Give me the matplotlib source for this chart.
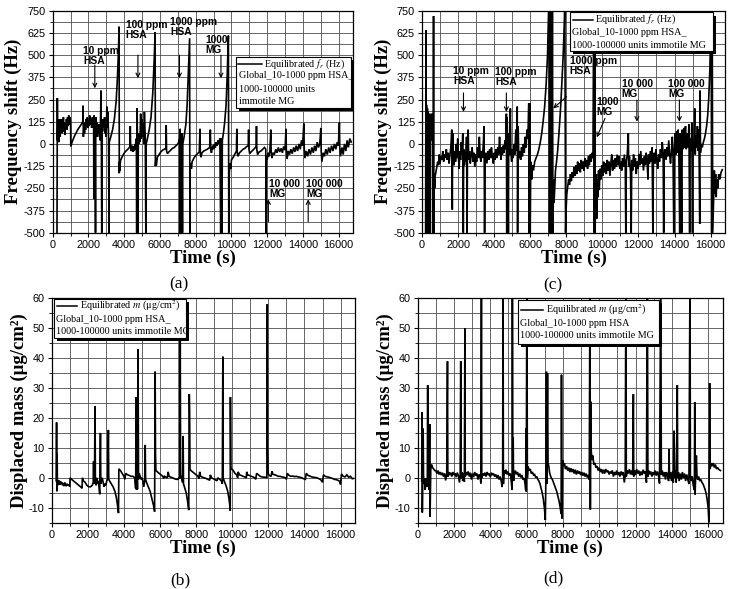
import matplotlib
matplotlib.use("Agg")
import matplotlib.pyplot as plt
from matplotlib.patches import Rectangle
from matplotlib.lines import Line2D
from matplotlib.ticker import MultipleLocator

plt.rcParams['font.family'] = 'Liberation Sans'
plt.rcParams['mathtext.fontset'] = 'stix'
plt.rcParams['axes.unicode_minus'] = False

# ---- data: (time s, value) ----
# (a) equilibrated frequency shift, Hz
a_data = [
    (240, -500), (260, 258), (275, 20), (290, 140), (305, 60), (320, 130), (340, 10), (360, 110),
    (380, 70), (400, 140), (420, 40), (440, 120), (460, 90), (490, 140), (510, 60), (540, 110),
    (570, 80), (600, 150), (620, 70), (650, 110), (680, 50), (710, 120), (740, 90), (770, 140),
    (800, 80), (830, 150), (860, 100), (900, 160), (930, 110), (970, 150), (1000, 120), (1010, -15),
    (1100, 15), (1200, 40), (1300, 60), (1400, 80), (1500, 95), (1600, 110), (1680, 125), (1700, 215),
    (1715, 40), (1750, 90), (1780, 60), (1810, 120), (1840, 80), (1870, 140), (1900, 100), (1940, 150),
    (1970, 90), (2000, 130), (2030, 100), (2070, 160), (2100, 110), (2140, 140), (2180, 90), (2220, 150),
    (2260, 100), (2290, 130), (2300, -310), (2315, 160), (2340, 50), (2370, 130), (2395, -500), (2410, 150),
    (2440, 60), (2470, 120), (2510, 40), (2540, 110), (2580, 60), (2620, 110), (2660, 20), (2700, 300),
    (2720, 30), (2745, -500), (2760, 120), (2790, 70), (2830, 140), (2870, 90), (2900, 150), (2930, 60),
    (2960, 130), (2990, 40), (3030, 210), (3060, 90), (3090, 180), (3120, 60), (3150, -500), (3165, 10),
    (3250, 40), (3350, 80), (3450, 140), (3550, 240), (3620, 370), (3670, 500), (3700, 600), (3715, 660),
    (3725, -165), (3740, -100), (3760, -150), (3790, -95), (3850, -80), (3950, -60), (4050, -45), (4150, -35),
    (4250, -25), (4320, -15), (4340, 100), (4360, -20), (4400, -40), (4440, -10), (4480, -45), (4520, -15),
    (4560, -40), (4600, 0), (4640, -30), (4680, 30), (4700, -500), (4720, 200), (4740, 40), (4770, -500),
    (4790, 60), (4820, 0), (4850, 50), (4880, 10), (4920, 170), (4950, 30), (5000, 140), (5030, 40),
    (5070, 120), (5100, 0), (5130, 180), (5180, 20), (5210, -500), (5230, 0), (5300, 30), (5400, 80),
    (5500, 150), (5600, 290), (5680, 480), (5730, 630), (5745, -125), (5770, -90), (5800, -120), (5850, -75),
    (5950, -60), (6050, -45), (6150, -35), (6250, -30), (6330, -25), (6350, 105), (6370, -40), (6420, -55),
    (6500, -45), (6600, -35), (6700, -25), (6800, -20), (6900, -10), (7000, 0), (7050, 10), (7100, 30),
    (7110, -500), (7130, 85), (7150, -500), (7170, 20), (7200, -500), (7230, 60), (7260, -500), (7280, 0),
    (7350, 40), (7450, 110), (7520, 220), (7580, 380), (7630, 520), (7660, 595), (7675, -500), (7690, -150),
    (7720, -110), (7760, -140), (7800, -100), (7900, -80), (8000, -65), (8100, -55), (8200, -45), (8240, 85),
    (8260, -60), (8300, -75), (8350, -50), (8450, -40), (8550, -35), (8650, -30), (8780, -20), (8820, 80),
    (8840, -30), (8880, -50), (8950, -10), (9000, -30), (9050, 0), (9100, -20), (9150, 10), (9200, -10),
    (9260, 20), (9300, 0), (9350, 30), (9400, -500), (9430, 30), (9470, -500), (9490, 20), (9550, 60),
    (9620, 120), (9700, 220), (9760, 380), (9800, 520), (9830, 610), (9850, -500), (9880, -165), (9920, -110),
    (9960, -140), (10000, -90), (10100, -75), (10200, -55), (10280, -40), (10300, 85), (10320, -45), (10360, -70),
    (10450, -50), (10550, -40), (10650, -30), (10750, -25), (10850, -15), (10940, -10), (10960, 80), (10980, -30),
    (11020, -55), (11100, -45), (11200, -35), (11300, -25), (11380, -15), (11400, 100), (11420, -30), (11460, -60),
    (11550, -45), (11650, -40), (11750, -30), (11850, -20), (11920, -30), (11940, -500), (11960, -70), (12000, -90),
    (12050, -50), (12100, -70), (12150, -40), (12200, 80), (12220, -40), (12260, -80), (12320, -50), (12400, -60),
    (12480, -30), (12550, -50), (12620, -20), (12700, -45), (12780, -25), (12850, -50), (12920, -15), (13000, -35),
    (13050, 85), (13070, -30), (13110, -85), (13180, -40), (13250, -60), (13320, -30), (13400, -55), (13480, -20),
    (13550, -45), (13620, -10), (13700, -40), (13780, 0), (13850, -30), (13920, 20), (13980, -10), (14050, 115),
    (14070, -20), (14110, -80), (14180, -40), (14260, -70), (14340, -30), (14420, -60), (14500, -20), (14580, -50),
    (14650, -10), (14720, -40), (14800, 10), (14870, -20), (14940, 0), (15000, 90), (15020, -40), (15060, -100),
    (15130, -50), (15200, -70), (15280, -30), (15360, -60), (15440, -20), (15520, -50), (15600, -10), (15680, -40),
    (15760, 0), (15840, -30), (15920, 10), (15980, -10), (16040, 120), (16060, -20), (16100, -70), (16180, -20),
    (16250, -60), (16320, 0), (16400, -40), (16470, 20), (16540, -20), (16620, 30), (16700, 10),
]

# (c) equilibrated frequency shift, Hz (second run)
c_data = [
    (200, -500), (220, 640), (235, -500), (250, 220), (265, 100), (280, -500), (300, 200), (320, 60),
    (340, 180), (360, -500), (380, 150), (400, 30), (430, 170), (460, -500), (480, 120), (510, 20),
    (540, 170), (570, 50), (600, 170), (615, -500), (640, 720), (660, -500), (680, -200), (700, -250),
    (730, -180), (770, -160), (820, -130), (870, -100), (920, -120), (960, -60), (1000, -110), (1050, -70),
    (1100, -90), (1150, -40), (1200, -100), (1250, -60), (1300, -80), (1350, -30), (1400, -90), (1450, -50),
    (1500, -110), (1550, -60), (1600, -20), (1650, 80), (1680, -370), (1700, 60), (1740, -60), (1780, -120),
    (1820, -40), (1860, -100), (1900, 0), (1940, -80), (1980, 30), (2020, -70), (2060, -140), (2100, -40),
    (2140, -90), (2180, 10), (2220, -60), (2260, 60), (2290, -500), (2310, -30), (2350, -120), (2390, -50),
    (2430, -100), (2470, 40), (2500, -500), (2520, -60), (2560, 80), (2590, -90), (2630, -40), (2680, -110),
    (2730, -60), (2780, -20), (2830, -100), (2880, -50), (2930, -130), (2980, -60), (3030, -100), (3080, -20),
    (3130, -80), (3180, 40), (3220, -60), (3260, -100), (3300, -40), (3350, -80), (3400, 0), (3440, 100),
    (3470, -500), (3500, -80), (3540, -50), (3600, -110), (3650, -40), (3700, -90), (3750, -30), (3800, -80),
    (3850, -20), (3900, -70), (3950, -110), (4000, -50), (4050, -90), (4100, -30), (4150, -80), (4200, -20),
    (4250, -60), (4300, 40), (4340, -40), (4380, -90), (4420, -20), (4460, -60), (4500, -10), (4540, -50),
    (4600, 20), (4640, -30), (4680, 170), (4700, -500), (4720, 150), (4750, -30), (4790, -500), (4810, 60),
    (4850, -60), (4900, 200), (4930, -50), (4970, -100), (5010, -30), (5050, -80), (5100, 0), (5150, -60),
    (5200, 80), (5240, -40), (5280, 210), (5300, -500), (5330, 100), (5370, -80), (5420, -40), (5470, -90),
    (5520, -20), (5570, -70), (5620, 0), (5670, -50), (5720, 40), (5770, -20), (5820, 80), (5870, 30),
    (5920, 230), (5940, -500), (5970, 230), (6000, -500), (6030, -100), (6080, -200), (6120, -120), (6180, -150),
    (6250, -100), (6320, -80), (6400, -60), (6480, -30), (6560, 10), (6640, 60), (6720, 130), (6800, 210),
    (6880, 330), (6960, 500), (7030, 800), (7050, 800), (7070, -500), (7100, 800), (7130, -500), (7160, 800),
    (7190, -500), (7230, 800), (7260, -500), (7290, -200), (7320, -330), (7360, -250), (7400, -150), (7460, -100),
    (7520, -40), (7580, 40), (7640, 130), (7700, 230), (7760, 350), (7820, 480), (7880, 650), (7920, 800),
    (7960, -500), (7990, -370), (8030, -280), (8080, -240), (8130, -200), (8180, -230), (8230, -170), (8280, -210),
    (8330, -160), (8380, -190), (8430, -130), (8480, -180), (8530, -120), (8580, -170), (8630, -100), (8680, -150),
    (8730, -110), (8780, -160), (8830, -90), (8880, -140), (8930, -100), (8980, -150), (9030, -80), (9080, -130),
    (9130, -90), (9180, -140), (9230, -70), (9280, -120), (9330, -60), (9380, -100), (9430, -50), (9480, -80),
    (9520, 800), (9550, -500), (9580, 800), (9600, -500), (9630, -250), (9670, -170), (9700, -420), (9730, -200),
    (9760, -300), (9790, -150), (9830, -260), (9870, -140), (9920, -200), (9970, -120), (10020, -180), (10070, -100),
    (10120, -160), (10170, -110), (10220, -170), (10270, -90), (10320, -150), (10370, -100), (10420, -180), (10470, -110),
    (10520, -60), (10570, -150), (10620, -90), (10670, -140), (10720, -80), (10770, -130), (10820, -60), (10870, -120),
    (10920, -70), (10970, -140), (11020, -100), (11070, -150), (11120, -80), (11170, -130), (11220, -60), (11270, -120),
    (11300, -500), (11330, -100), (11380, -60), (11440, 60), (11460, -130), (11500, -70), (11560, -160), (11600, -500),
    (11630, -90), (11680, -150), (11730, -60), (11780, -130), (11830, -80), (11880, -170), (11930, -100), (11980, -140),
    (12030, -60), (12080, -120), (12130, -40), (12180, -110), (12230, -80), (12280, -150), (12330, -70), (12380, -120),
    (12430, -50), (12480, -100), (12530, -200), (12560, -60), (12610, -110), (12660, -40), (12710, -100), (12760, -20),
    (12800, -500), (12830, -100), (12870, -50), (12920, -110), (12970, -30), (13020, -90), (13070, -140), (13120, -60),
    (13170, -100), (13220, -30), (13270, -80), (13320, 10), (13370, -50), (13400, -500), (13430, -80), (13480, -30),
    (13530, -90), (13580, -20), (13630, -70), (13680, 20), (13730, -60), (13780, -110), (13830, -40), (13880, 40),
    (13920, -80), (13960, -500), (13990, -40), (14040, 60), (14080, -60), (14120, 70), (14160, -50), (14200, 80),
    (14240, -40), (14290, -500), (14320, 60), (14360, -40), (14400, -500), (14430, 80), (14470, -30), (14520, 90),
    (14560, -20), (14610, 100), (14650, -30), (14700, 60), (14750, -20), (14800, 110), (14840, -500), (14870, 30),
    (14920, -40), (14960, 120), (15000, -500), (15030, 20), (15070, -30), (15120, 200), (15150, -60), (15190, 50),
    (15230, -20), (15270, 100), (15310, -40), (15350, 80), (15400, -450), (15420, 300), (15440, -50), (15480, 0),
    (15540, -20), (15600, 10), (15660, 30), (15720, 60), (15780, 100), (15840, 160), (15900, 260), (15960, 420),
    (16000, 600), (16030, 800), (16060, -500), (16090, 800), (16120, -500), (16150, -390), (16180, -300), (16210, -150),
    (16240, -280), (16280, -170), (16310, -300), (16350, -200), (16400, -250), (16450, -170), (16520, -200), (16580, -160),
    (16650, -145),
]

# (b) displaced mass, ug/cm2
b_data = [
    (250, -1), (270, 18.5), (285, -4.5), (300, 8), (315, -1.5), (340, -2.5), (370, -0.8), (400, -2),
    (430, -1), (460, -2.3), (490, -1.2), (520, -2), (560, -1.5), (600, -2.5), (640, -1.8), (680, -2.8),
    (720, -1.5), (760, -2.2), (800, -2.8), (850, -2), (900, -2.6), (950, -2.2), (1000, -3), (1020, 0),
    (1100, -0.5), (1200, -1), (1300, -1.5), (1400, -2), (1500, -2.5), (1600, -3), (1680, -3.5), (1700, 0),
    (1750, -1), (1850, -1.5), (1950, -2.5), (2050, -3), (2150, -3), (2250, -2.5), (2300, -1.5), (2320, 5.5),
    (2340, -2), (2370, -0.5), (2400, 24), (2420, -1), (2460, -2.5), (2500, 0), (2540, -2), (2580, -1),
    (2620, -3), (2660, -5.5), (2700, 15), (2720, -2), (2760, -1), (2800, 0), (2850, -1.5), (2900, -3),
    (2950, -2), (3000, -2.5), (3050, -1), (3100, -0.5), (3140, 16), (3160, -0.5), (3200, -1), (3300, -2),
    (3400, -3), (3500, -4.5), (3580, -6.5), (3640, -9), (3700, -11.8), (3720, 3), (3800, 2.5), (3900, 1.5),
    (4000, 0.5), (4050, -0.5), (4100, 1.5), (4200, 1), (4300, 0.8), (4400, 0.5), (4500, 0.5), (4600, 0),
    (4650, -3.5), (4680, 27), (4700, -4), (4730, 0.5), (4750, -3.8), (4780, 43), (4810, -0.5), (4850, 1.5),
    (4900, 0.5), (4950, -0.5), (5000, 0), (5050, -1), (5100, -3), (5150, -1), (5180, 11), (5200, -0.5),
    (5250, -1.5), (5350, -3), (5450, -4.5), (5550, -7), (5650, -9.5), (5700, -11.3), (5730, 35.5), (5750, 8),
    (5770, 2.5), (5850, 2), (5950, 1.5), (6050, 1), (6150, 0.5), (6200, -0.2), (6250, 0.5), (6300, 0.3),
    (6400, 0), (6450, 2), (6500, 0.5), (6600, 0.2), (6700, 0), (6800, -0.3), (6900, -0.5), (7000, -0.5),
    (7050, 0), (7100, 0), (7120, 47), (7140, 1), (7200, 0), (7250, -1.5), (7280, 14), (7300, -2),
    (7350, -3), (7450, -5), (7530, -8), (7590, -10.8), (7620, 28), (7640, 22), (7660, 3), (7700, 2.5),
    (7800, 2), (7900, 1.5), (8000, 1), (8100, 0.5), (8150, -0.3), (8200, 2), (8250, 0.5), (8350, 0.2),
    (8450, 0), (8550, -0.2), (8650, -0.5), (8750, -0.8), (8790, 1), (8850, 0), (8950, -0.3), (9050, -0.6),
    (9150, -1), (9200, 0), (9300, -0.5), (9400, -1), (9450, -2), (9480, 40.5), (9500, 0), (9550, -1),
    (9650, -2.5), (9750, -4.5), (9820, -7), (9860, -9), (9890, -11), (9900, 27), (9920, 3.5), (9950, 3),
    (10050, 2.5), (10150, 1.5), (10250, 1), (10300, 0), (10330, 2), (10400, 1), (10500, 0.8), (10600, 0.5),
    (10700, 0.3), (10780, 0), (10800, 2), (10850, 1), (10950, 0.8), (11050, 0.5), (11150, 0.3), (11250, 0),
    (11300, -0.5), (11350, 1.5), (11450, 1), (11550, 0.5), (11650, 0.3), (11750, 0.2), (11850, 0.2), (11920, 0),
    (11940, 58), (11960, 10), (11990, 1.5), (12050, 0.8), (12150, 0.5), (12200, 2.2), (12250, 1.2), (12350, 1),
    (12450, 0.8), (12550, 0.5), (12650, 0.5), (12750, 0.3), (12850, 0.2), (12950, 0), (13000, -0.5), (13050, 1.5),
    (13150, 0.8), (13250, 0.5), (13350, 0.6), (13450, 0.4), (13550, 0.5), (13650, 0.3), (13750, 0.2), (13850, 0),
    (13950, -0.3), (14050, -0.5), (14100, 1.5), (14200, 0.8), (14300, 0.6), (14400, 0.3), (14500, 0.2), (14600, 0.1),
    (14700, 0), (14800, -0.3), (14900, -0.6), (15000, -1.5), (15050, 1), (15150, 0.5), (15250, 0.3), (15350, 0.2),
    (15450, 0), (15550, -0.2), (15650, -0.5), (15750, -0.6), (15850, -0.8), (15950, -1.2), (16000, -2.2), (16050, 1.3),
    (16150, 0.5), (16250, 0.3), (16350, 1), (16450, 0.2), (16550, 0.5), (16650, -0.3), (16720, -0.2),
]

# (d) displaced mass, ug/cm2 (second run)
d_data = [
    (220, -1), (240, 22), (255, -11.5), (275, 0), (300, 16.5), (320, 1), (350, -2), (380, 0),
    (410, -4), (440, -1), (470, -3), (500, 0), (530, -1), (550, 31), (570, -3), (600, -1),
    (630, -4), (660, 18), (680, -13), (700, -5), (720, 3), (760, 4.5), (820, 3.5), (880, 3),
    (940, 2.5), (1000, 2.5), (1060, 1.5), (1120, 2.5), (1180, 1.2), (1240, 2), (1300, 1), (1360, 1.8),
    (1420, 0.5), (1480, 1.5), (1540, -0.8), (1600, 1.5), (1640, 39), (1660, 0.5), (1700, 2), (1760, 1),
    (1820, 1.8), (1880, 0.5), (1940, 2), (2000, 1), (2060, 1.6), (2120, 0.3), (2180, 1.8), (2240, 0.8),
    (2300, -1.5), (2340, 1), (2370, 39), (2390, 0), (2430, 2), (2480, -1), (2530, 1.5), (2570, -1.2),
    (2600, 50), (2620, 0.5), (2660, 2), (2720, 1), (2780, 2.2), (2840, 0.5), (2900, 1.8), (2960, -0.5),
    (3020, 1.5), (3080, 0.3), (3140, 2), (3200, 0.8), (3260, 1.5), (3320, -0.5), (3380, 1.2), (3440, 0.5),
    (3480, -1.8), (3510, 70), (3530, 0), (3580, 1.5), (3640, 0.8), (3700, 1.8), (3760, 0.5), (3820, 2),
    (3880, 1), (3940, 1.5), (4000, 0.3), (4060, 1.8), (4120, 1), (4180, 1.5), (4240, 0.5), (4300, 1.2),
    (4360, 0), (4420, 1), (4480, -0.5), (4540, 0.5), (4600, -1), (4650, -3), (4680, 0), (4700, 70),
    (4720, -2), (4760, 2.5), (4810, 1.5), (4860, 2.8), (4920, 1.2), (4980, 2.2), (5040, 0.8), (5100, 1.5),
    (5160, -1.5), (5200, -4), (5215, 70), (5240, 0), (5260, 13.5), (5280, -1), (5330, 1.5), (5380, 2.5),
    (5440, 1.2), (5500, 2), (5560, 0.5), (5620, 1.5), (5680, 0.2), (5740, 1), (5800, -0.5), (5860, 0),
    (5920, -2), (5950, -4), (5960, 16.5), (5980, -4.5), (6015, 70), (6040, 0), (6080, 3.8), (6140, 2.5),
    (6200, 3), (6260, 1.5), (6320, 2), (6380, 1), (6440, 1.2), (6500, 0.2), (6560, 0.5), (6620, -0.5),
    (6680, -1), (6740, -2), (6800, -3.5), (6860, -5), (6920, -7), (6980, -10), (7030, -14), (7060, 0),
    (7090, 35.5), (7110, -2), (7150, 35), (7180, 5), (7220, 4), (7260, 2), (7300, 1), (7360, 0),
    (7420, -0.5), (7480, -1.5), (7540, -2.5), (7600, -3.5), (7660, -4.5), (7720, -6), (7780, -7.5), (7840, -9.5),
    (7900, -12), (7920, 34.5), (7950, -13.5), (7980, 6), (8020, 4), (8080, 5), (8140, 3), (8200, 4),
    (8260, 2.5), (8320, 3.5), (8380, 2), (8440, 3.3), (8500, 2), (8560, 3), (8620, 1.5), (8680, 2.8),
    (8740, 1.2), (8800, 2.5), (8860, 1.5), (8920, 2.2), (8980, 1), (9040, 2), (9100, 0.8), (9160, 1.8),
    (9220, 0.5), (9280, 1.5), (9340, 0.2), (9400, 1), (9450, -0.5), (9490, 70), (9510, -10.5), (9530, 25.5),
    (9560, 9), (9600, 6), (9650, 7.5), (9700, 4.5), (9760, 5), (9820, 3.5), (9880, 4), (9940, 2.5),
    (10000, 3.5), (10060, 2), (10120, 3), (10180, 1.5), (10240, 2.8), (10300, 1.5), (10360, 3), (10420, 2),
    (10480, 2.5), (10540, 1.2), (10600, 2.2), (10660, 1.5), (10720, 2.5), (10780, 0.5), (10840, 2), (10900, 1),
    (10960, 2.5), (11020, 1), (11080, 2), (11140, 0.5), (11200, 2.2), (11260, 1), (11320, 2), (11380, -1.5),
    (11430, 1), (11470, 70), (11490, 0.5), (11540, 2.5), (11600, 1.5), (11660, 3), (11720, 1.2), (11780, 2.5),
    (11840, 1), (11880, 28), (11900, 0.5), (11940, 2.5), (12000, 1), (12060, 3), (12120, 1.5), (12180, 2.5),
    (12240, 0.8), (12300, 2.2), (12360, 1), (12420, 2.8), (12480, 1.5), (12540, 2.2), (12600, -1.5), (12650, 70),
    (12680, 0.5), (12720, 2.5), (12780, 1.2), (12840, 2.2), (12900, 0.5), (12960, 2), (13020, 1), (13080, 2.5),
    (13140, 0.8), (13200, 2.2), (13260, 1), (13320, -1.8), (13390, 70), (13420, 1), (13470, 2.5), (13530, 0.5),
    (13590, 2), (13650, -0.5), (13700, 2), (13760, 0.8), (13820, -1), (13845, 9.7), (13870, 0), (13920, 2),
    (13980, -1), (14040, 2.2), (14080, -1.5), (14120, 15.8), (14150, 0), (14200, 2.5), (14240, -1.5), (14300, 31),
    (14320, 0), (14360, 2), (14400, -1), (14460, 1.5), (14520, -0.5), (14580, 2), (14640, 0), (14700, 1.5),
    (14760, -1), (14820, 1.2), (14880, -0.5), (14940, -2), (15000, 70), (15020, 1), (15060, -1), (15120, 0.5),
    (15180, -2.5), (15240, -4), (15260, 25.4), (15280, -5.5), (15310, 1), (15350, 7.5), (15380, 1), (15420, -0.5),
    (15480, 0.5), (15540, -1), (15600, -0.5), (15660, -1.5), (15720, -2), (15780, -3), (15840, -4), (15900, -5.5),
    (15950, -7.5), (16000, -10), (16040, -14.8), (16080, 31.7), (16110, 3), (16160, 5), (16220, 4), (16280, 5),
    (16340, 3.5), (16400, 4.5), (16460, 3), (16520, 3.5), (16600, 2.8), (16680, 2.5),
]

freq_ticks = [-500, -375, -250, -125, 0, 125, 250, 375, 500, 625, 750]
mass_ticks = [-10, 0, 10, 20, 30, 40, 50, 60]

W, H = 732, 589
fig = plt.figure(figsize=(W / 100, H / 100), dpi=100)


def rect(l, t, r, b):
    return [l / W, 1 - b / H, (r - l) / W, (b - t) / H]


ax_a = fig.add_axes(rect(52.7, 10.7, 353, 232.7))
ax_c = fig.add_axes(rect(422, 10.7, 725, 232.7))
ax_b = fig.add_axes(rect(51.7, 298.3, 355, 522.7))
ax_d = fig.add_axes(rect(417.7, 298.3, 722.7, 523))

serif = 'Liberation Serif'


def setup(ax, data, ylim, yticks, ystep, ylabel):
    t, v = zip(*data)
    ax.plot(t, v, color='black', lw=1.2, solid_joinstyle='miter')
    ax.set_xlim(0, 16800)
    ax.set_ylim(*ylim)
    ax.xaxis.set_major_locator(MultipleLocator(2000))
    ax.xaxis.set_minor_locator(MultipleLocator(1000))
    ax.set_yticks(yticks)
    ax.yaxis.set_minor_locator(MultipleLocator(ystep))
    ax.grid(which='both', color='0.3', lw=0.6)
    ax.set_axisbelow(True)
    ax.tick_params(which='major', labelsize=7.8, length=3, width=0.8, pad=2)
    ax.tick_params(which='minor', length=2, width=0.6)
    for s in ax.spines.values():
        s.set_linewidth(0.9)
    ax.set_xlabel('Time (s)', fontsize=13.5, fontweight='bold', family=serif, labelpad=0)
    ax.set_ylabel(ylabel, fontsize=13.5, fontweight='bold', family=serif, labelpad=1)


setup(ax_a, a_data, (-500, 750), freq_ticks, 62.5, 'Frequency shift (Hz)')
setup(ax_c, c_data, (-500, 750), freq_ticks, 62.5, 'Frequency shift (Hz)')
setup(ax_b, b_data, (-15, 60), mass_ticks, 5, 'Displaced mass (μg/cm²)')
setup(ax_d, d_data, (-15, 60), mass_ticks, 5, 'Displaced mass (μg/cm²)')


def note(ax, x, y, s):
    ax.text(x, y, s, fontsize=7.4, fontweight='bold', ha='left', va='top', linespacing=1.0, zorder=5)


def arrow(ax, x0, y0, x1, y1):
    ax.annotate('', xy=(x1, y1), xytext=(x0, y0),
                arrowprops=dict(arrowstyle='->', lw=0.8, color='black', shrinkA=0, shrinkB=0,
                                mutation_scale=7), zorder=5)


# (a) annotations
note(ax_a, 1690, 550, '10 ppm\nHSA')
arrow(ax_a, 2356, 444, 2356, 313)
note(ax_a, 4080, 700, '100 ppm\nHSA')
arrow(ax_a, 4768, 500, 4768, 370)
note(ax_a, 6590, 715, '1000 ppm\nHSA')
arrow(ax_a, 7090, 500, 7090, 370)
note(ax_a, 8560, 612, '1000\nMG')
arrow(ax_a, 9413, 500, 9413, 370)
note(ax_a, 12110, -198, '10 000\nMG')
arrow(ax_a, 12065, -438, 12065, -312)
note(ax_a, 14180, -198, '100 000\nMG')
arrow(ax_a, 14293, -438, 14293, -312)

# (c) annotations
note(ax_c, 1726, 440, '10 ppm\nHSA')
arrow(ax_c, 2300, 287, 2300, 180)
note(ax_c, 4065, 434, '100 ppm\nHSA')
arrow(ax_c, 4677, 287, 4677, 180)
note(ax_c, 8185, 496, '1000 ppm\nHSA')
arrow(ax_c, 8018, 266, 7277, 200)
note(ax_c, 9688, 265, '1000\nMG')
arrow(ax_c, 10150, 144, 9688, 37)
note(ax_c, 11080, 367, '10 000\nMG')
arrow(ax_c, 11915, 247, 11915, 125)
note(ax_c, 13642, 367, '100 000\nMG')
arrow(ax_c, 14270, 247, 14270, 125)


def legend_box(x0, y0, x1, y1, sample, rows):
    fig.add_artist(Rectangle(((x0 + 3) / W, 1 - (y1 + 3) / H), (x1 - x0) / W, (y1 - y0) / H,
                             transform=fig.transFigure, fc='black', ec='none', zorder=4))
    fig.add_artist(Rectangle((x0 / W, 1 - y1 / H), (x1 - x0) / W, (y1 - y0) / H,
                             transform=fig.transFigure, fc='white', ec='black', lw=0.8, zorder=5))
    sx0, sx1, sy = sample
    fig.add_artist(Line2D([sx0 / W, sx1 / W], [1 - sy / H] * 2, transform=fig.transFigure,
                          color='black', lw=1.1, zorder=6))
    for x, y, s in rows:
        fig.text(x / W, 1 - y / H, s, fontsize=7.3, family=serif, ha='left', va='center', zorder=6)


legend_box(236, 57, 351, 108, (238, 262, 64),
           [(264, 64, r'Equilibrated $f_r$ (Hz)'),
            (239, 76, 'Global_10-1000 ppm HSA_'),
            (239, 89, '1000-100000 units'),
            (239, 101.5, 'immotile MG')])
legend_box(570, 12.5, 713, 50.5, (573, 593, 19.5),
           [(595, 19.5, r'Equilibrated $f_r$ (Hz)'),
            (572, 32.5, 'Global_10-1000 ppm HSA_'),
            (572, 45, '1000-100000 units immotile MG')])
legend_box(54, 298.5, 186, 338, (57, 77, 306),
           [(80, 306, r'Equilibrated $m$ (μg/cm$^2$)'),
            (56, 319.5, 'Global_10-1000 ppm HSA_'),
            (56, 332, '1000-100000 units immotile MG')])
legend_box(518, 300, 659, 344, (521, 543, 310),
           [(546, 310, r'Equilibrated $m$ (μg/cm$^2$)'),
            (520, 323, 'Global_10-1000 ppm HSA'),
            (520, 335.5, '1000-100000 units immotile MG')])

for x, y, s in [(179, 284, '(a)'), (553, 285, '(c)'), (180, 580, '(b)'), (553, 578, '(d)')]:
    fig.text(x / W, 1 - y / H, s, fontsize=12.5, family=serif, ha='center', va='center')

fig.savefig('out.png', dpi=100)
